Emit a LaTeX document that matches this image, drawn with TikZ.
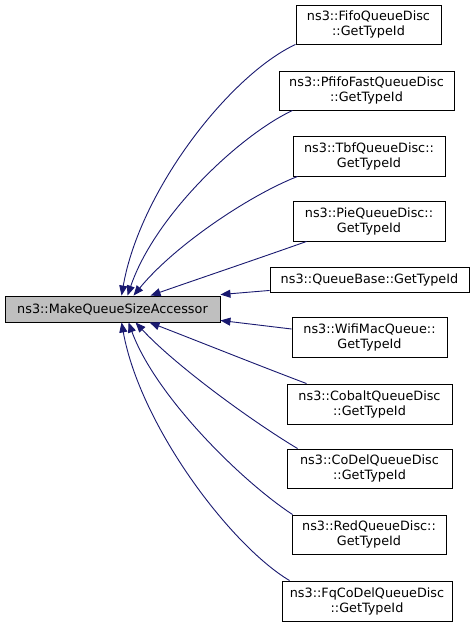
\documentclass[tikz,border=0pt]{standalone}
\usepackage{fontspec}
\setmainfont{DejaVu Sans}
\usetikzlibrary{arrows.meta}
\definecolor{edgeblue}{HTML}{191970}
\definecolor{mainfill}{HTML}{BFBFBF}
\tikzset{
  box/.style={draw=black, line width=0.9pt, fill=white, inner sep=0pt, align=center,
    font=\fontsize{12.8}{15}\selectfont},
  mainbox/.style={box, fill=mainfill},
  conn/.style={draw=edgeblue, line width=0.9pt, -{Triangle[length=10pt,width=8pt]}},
}
\begin{document}
\begin{tikzpicture}[x=1pt,y=-1pt]
\useasboundingbox (0,0) rectangle (475,625);
\fill[white] (0,0) rectangle (475,625);
\node[mainbox, minimum width=215pt, minimum height=26pt] (main) at (112.5,309) {ns3::MakeQueueSizeAccessor};

\node[box, minimum width=145pt, minimum height=39pt] (fifo) at (368.5,24.5) {ns3::FifoQueueDisc\\::GetTypeId};
\node[box, minimum width=175pt, minimum height=39pt] (pfifo) at (366.5,90.5) {ns3::PfifoFastQueueDisc\\::GetTypeId};
\node[box, minimum width=152pt, minimum height=40pt] (tbf) at (369,156) {ns3::TbfQueueDisc::\\GetTypeId};
\node[box, minimum width=152pt, minimum height=40pt] (pie) at (369,221) {ns3::PieQueueDisc::\\GetTypeId};
\node[box, minimum width=199pt, minimum height=25pt] (qb) at (369.5,279.5) {ns3::QueueBase::GetTypeId};
\node[box, minimum width=155pt, minimum height=40pt] (wifi) at (369.5,337) {ns3::WifiMacQueue::\\GetTypeId};
\node[box, minimum width=165pt, minimum height=40pt] (cobalt) at (369.5,404) {ns3::CobaltQueueDisc\\::GetTypeId};
\node[box, minimum width=165pt, minimum height=39pt] (codel) at (369.5,468.5) {ns3::CoDelQueueDisc\\::GetTypeId};
\node[box, minimum width=154pt, minimum height=39pt] (red) at (369,534.5) {ns3::RedQueueDisc::\\GetTypeId};
\node[box, minimum width=170pt, minimum height=40pt] (fq) at (367,601) {ns3::FqCoDelQueueDisc\\::GetTypeId};

\draw[conn] (fifo.south west) .. controls (230,75) and (140,190) .. ([xshift=117pt]main.north west);
\draw[conn] ([xshift=14pt]pfifo.south west) .. controls (240,135) and (155,215) .. ([xshift=123pt]main.north west);
\draw[conn] ([xshift=5pt]tbf.south west) .. controls (250,195) and (175,245) .. ([xshift=129pt]main.north west);
\draw[conn] ([xshift=14pt]pie.south west) .. controls (260,258) and (195,280) .. ([xshift=146pt]main.north west);
\draw[conn] ([yshift=2pt]qb.south west) -- ([yshift=1pt]main.north east);
\draw[conn] ([yshift=8pt]wifi.west) -- ([yshift=2pt]main.south east);
\draw[conn] ([xshift=20pt]cobalt.north west) .. controls (260,366) and (195,340) .. ([xshift=145pt]main.south west);
\draw[conn] ([xshift=11pt]codel.north west) .. controls (250,420) and (175,365) .. ([xshift=131pt]main.south west);
\draw[conn] ([xshift=1pt]red.north west) .. controls (240,480) and (155,395) .. ([xshift=124pt]main.south west);
\draw[conn] ([xshift=8pt]fq.north west) .. controls (230,545) and (140,425) .. ([xshift=117pt]main.south west);
\end{tikzpicture}
\end{document}
